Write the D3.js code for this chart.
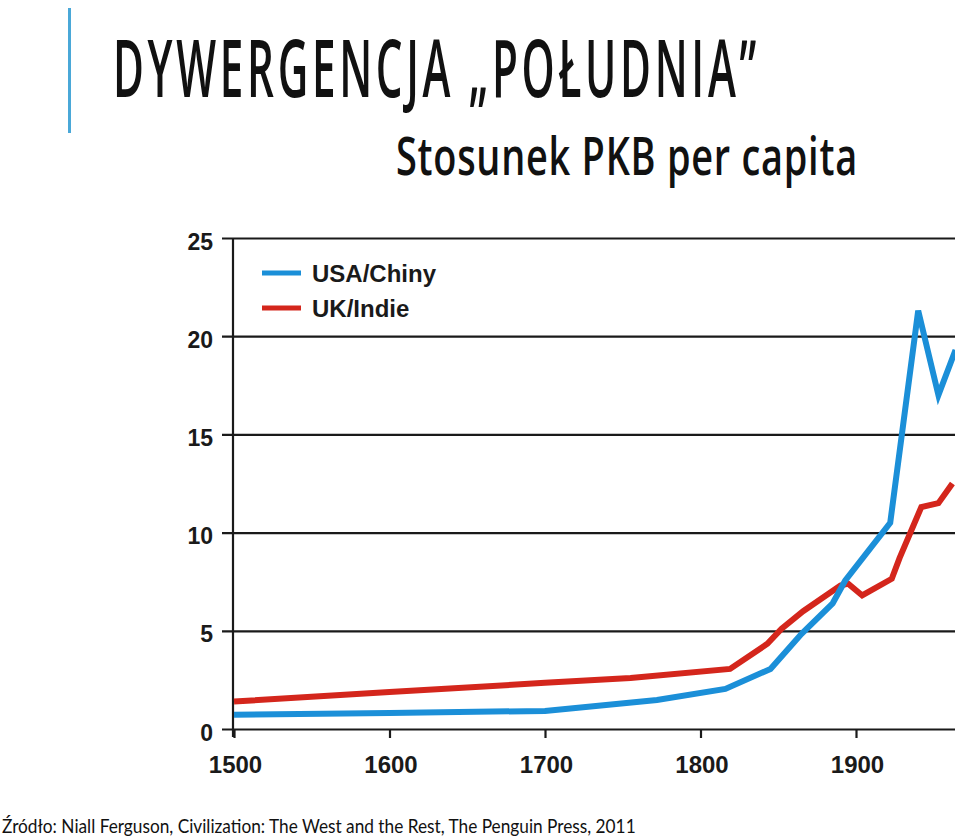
<!DOCTYPE html>
<html>
<head>
<meta charset="utf-8">
<script src="https://cdn.jsdelivr.net/npm/d3@7"></script>
<style>
  html, body { margin: 0; padding: 0; background: #fff; }
  svg { display: block; }
</style>
</head>
<body>
<svg id="chart" width="960" height="838"></svg>
<script>
// ---- data ----
const titleText = "DYWERGENCJA \u201EPO\u0141UDNIA\u201D";
const subtitleText = "Stosunek PKB per capita";
const sourceText = "\u0179r\u00F3d\u0142o: Niall Ferguson, Civilization: The West and the Rest, The Penguin Press, 2011";

const seriesNames = ["USA/Chiny", "UK/Indie"];
const seriesColors = ["#1b8fd8", "#d4261c"];

const usaChinaYears  = [1500, 1600, 1700, 1772, 1816, 1845, 1865, 1885, 1893, 1922, 1940, 1953, 1964];
const usaChinaValues = [0.72, 0.82, 0.92, 1.48, 2.04, 3.06, 4.85, 6.4, 7.55, 10.5, 21.3, 17.0, 19.3];

const ukIndiaYears  = [1500, 1600, 1700, 1755, 1819, 1843, 1852, 1866, 1890, 1895, 1904, 1923, 1928, 1942, 1953, 1962];
const ukIndiaValues = [1.4, 1.88, 2.35, 2.6, 3.06, 4.34, 5.1, 6.0, 7.3, 7.4, 6.8, 7.65, 8.7, 11.3, 11.5, 12.5];

const xTickValues = [1500, 1600, 1700, 1800, 1900];
const yTickValues = [0, 5, 10, 15, 20, 25];

// ---- layout ----
const svg = d3.select("#chart");
const plotLeft = 233, plotRight = 955, plotTop = 238, plotBottom = 729;

const x = d3.scaleLinear().domain([1500, 1900]).range([234, 856]);
const y = d3.scaleLinear().domain([0, 25]).range([plotBottom, plotTop]);

// decorative vertical bar
svg.append("rect").attr("x", 68).attr("y", 8).attr("width", 3).attr("height", 125).attr("fill", "#4aa8d8");

// fitted text helper: scales glyphs horizontally to a target width
function fittedText(str, x0, y0, width, size, weight, family, spacing) {
  const t = svg.append("text")
    .style("font-family", family)
    .style("font-size", size + "px").style("font-weight", weight)
    .style("letter-spacing", spacing + "px")
    .attr("fill", "#111")
    .text(str);
  const len = t.node().getComputedTextLength();
  t.attr("transform", `translate(${x0},${y0}) scale(${width / len},1)`);
  return t;
}

fittedText(titleText, 113, 97, 647, 80, 600, "'Open Sans', sans-serif", 7);
fittedText(subtitleText, 396, 175, 462, 52, 600, "'Open Sans', sans-serif", 1);

// y axis with gridlines
const yAxis = d3.axisLeft(y).tickValues(yTickValues).tickSize(0).tickPadding(20);
const yg = svg.append("g").attr("transform", `translate(${plotLeft},0)`).call(yAxis);
yg.select(".domain").remove();
yg.selectAll(".tick line")
  .attr("x1", -11).attr("x2", plotRight - plotLeft)
  .attr("stroke", "#1a1a1a").attr("stroke-width", 2.2);
yg.selectAll(".tick text")
  .attr("dy", "0.35em").attr("y", 3)
  .style("font-family", "Arial, 'Liberation Sans', sans-serif")
  .style("font-size", "23px").style("font-weight", "bold").attr("fill", "#1a1a1a");

// vertical axis line
svg.append("line")
  .attr("x1", plotLeft).attr("x2", plotLeft)
  .attr("y1", plotTop).attr("y2", plotBottom + 8)
  .attr("stroke", "#1a1a1a").attr("stroke-width", 2.2);

// x axis
const xAxis = d3.axisBottom(x).tickValues(xTickValues).tickFormat(d3.format("d")).tickSize(9);
const xg = svg.append("g").attr("transform", `translate(0,${plotBottom})`).call(xAxis);
xg.select(".domain").remove();
xg.selectAll(".tick line").attr("stroke", "#1a1a1a").attr("stroke-width", 2.2);
xg.selectAll(".tick text")
  .attr("x", 1).attr("y", 36).attr("dy", "0.35em")
  .style("font-family", "Arial, 'Liberation Sans', sans-serif")
  .style("font-size", "24px").style("font-weight", "bold").attr("fill", "#1a1a1a");

// clip
svg.append("clipPath").attr("id", "plotclip")
  .append("rect").attr("x", plotLeft).attr("y", 0).attr("width", plotRight - plotLeft).attr("height", 838);

const line = d3.line().x(d => x(d[0])).y(d => y(d[1])).curve(d3.curveLinear);
const seriesData = [
  d3.zip(usaChinaYears, usaChinaValues),
  d3.zip(ukIndiaYears, ukIndiaValues)
];

const lg = svg.append("g").attr("clip-path", "url(#plotclip)");
[1, 0].forEach(i => {
  lg.append("path")
    .datum(seriesData[i])
    .attr("d", line)
    .attr("fill", "none")
    .attr("stroke", seriesColors[i])
    .attr("stroke-width", 6)
    .attr("stroke-linejoin", "miter");
});

// legend
const legend = svg.append("g");
seriesNames.forEach((name, i) => {
  const ly = 273 + i * 35;
  legend.append("line")
    .attr("x1", 262).attr("x2", 301).attr("y1", ly).attr("y2", ly)
    .attr("stroke", seriesColors[i]).attr("stroke-width", 5);
  legend.append("text")
    .attr("x", 312).attr("y", ly + 9)
    .style("font-family", "Arial, 'Liberation Sans', sans-serif")
    .style("font-size", "24px").style("font-weight", "bold").attr("fill", "#1a1a1a")
    .text(name);
});

// source
fittedText(sourceText, 2, 833, 634, 19, 400, "Lato, sans-serif", 0);
</script>
</body>
</html>
